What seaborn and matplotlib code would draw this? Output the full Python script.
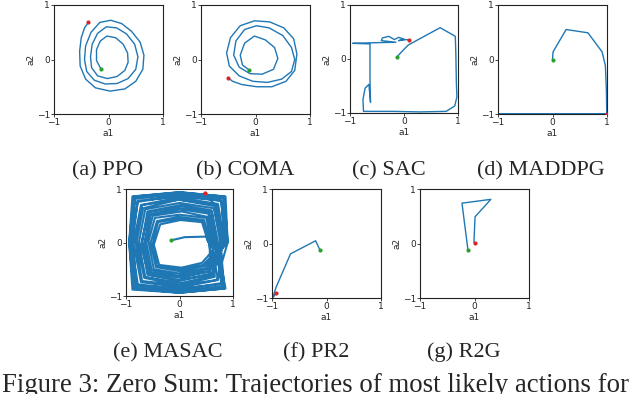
import matplotlib
matplotlib.use("Agg")
import matplotlib.pyplot as plt
import seaborn as sns

sns.set_style("ticks")
plt.rcParams['font.family'] = ['DejaVu Sans']

# trajectories of most likely actions (a1, a2), first point = start, last point = end
ppo_x = [-0.14, -0.22, -0.22, -0.15, -0.03, 0.13, 0.27, 0.35, 0.36, 0.30, 0.16, -0.02, -0.20, -0.31,
         -0.33, -0.30, -0.20, -0.04, 0.15, 0.33, 0.48, 0.54, 0.50, 0.36, 0.16, -0.06, -0.26, -0.40,
         -0.44, -0.42, -0.32, -0.16, 0.04, 0.24, 0.42, 0.58, 0.65, 0.63, 0.50, 0.30, 0.03, -0.24,
         -0.42, -0.52, -0.53, -0.50, -0.44, -0.37]
ppo_y = [-0.17, -0.02, 0.18, 0.34, 0.43, 0.40, 0.28, 0.12, -0.05, -0.20, -0.31, -0.35, -0.30, -0.15,
         0.05, 0.28, 0.48, 0.60, 0.58, 0.47, 0.28, 0.05, -0.18, -0.35, -0.44, -0.45, -0.38, -0.22,
         0.00, 0.25, 0.50, 0.68, 0.72, 0.66, 0.52, 0.32, 0.08, -0.18, -0.40, -0.54, -0.58, -0.52,
         -0.36, -0.12, 0.15, 0.40, 0.58, 0.68]

coma_x = [-0.12, -0.24, -0.28, -0.20, -0.02, 0.18, 0.35, 0.41, 0.33, 0.12, -0.10, -0.30, -0.40,
          -0.36, -0.20, 0.02, 0.25, 0.50, 0.66, 0.72, 0.66, 0.48, 0.22, -0.05, -0.30, -0.48, -0.53,
          -0.46, -0.28, -0.02, 0.26, 0.52, 0.70, 0.76, 0.72, 0.56, 0.30, 0.02, -0.25, -0.42, -0.50]
coma_y = [-0.19, -0.10, 0.08, 0.30, 0.43, 0.36, 0.22, 0.02, -0.18, -0.27, -0.26, -0.14, 0.08,
          0.34, 0.55, 0.62, 0.58, 0.44, 0.22, 0.00, -0.22, -0.36, -0.42, -0.40, -0.30, -0.12, 0.12,
          0.40, 0.62, 0.71, 0.69, 0.58, 0.38, 0.10, -0.20, -0.40, -0.50, -0.50, -0.46, -0.40, -0.34]

sac_x = [-0.13, 0.00, 0.08, 0.67, 0.95, 0.96, 0.97, 0.98, 0.94, 0.78, 0.30, -0.20, -0.75, -0.76,
         -0.72, -0.65, -0.62, -0.63, -0.63, -0.95, -0.60, -0.15, -0.42, -0.40, -0.28, -0.18, -0.10,
         0.00, -0.10, 0.05, 0.09]
sac_y = [0.04, 0.18, 0.26, 0.58, 0.42, 0.10, -0.45, -0.70, -0.87, -0.97, -0.98, -0.97, -0.97, -0.75,
         -0.54, -0.47, -0.80, -0.40, 0.28, 0.29, 0.30, 0.31, 0.34, 0.39, 0.42, 0.36, 0.40, 0.37,
         0.34, 0.36, 0.35]

maddpg_x = [0.00, 0.01, 0.25, 0.65, 0.91, 0.97, 0.99, 0.995, -1.0, -1.0, -1.0, 1.0]
maddpg_y = [0.00, 0.14, 0.55, 0.49, 0.14, -0.11, -0.60, -1.0, -1.0, 1.0, -1.0, -1.0]

masac_x = [-0.16, 0.10, 0.50,
           0.54, 0.42, 0.02, -0.36, -0.48, -0.38, 0.04, 0.42,
           0.80, 0.66, -0.02, -0.68, -0.80, -0.66, 0.00, 0.66,
           0.62, 0.52, 0.04, -0.50, -0.62, -0.52, -0.02, 0.52,
           0.88, 0.84, 0.00, -0.84, -0.92, -0.86, 0.02, 0.82,
           0.72, 0.60, 0.02, -0.58, -0.72, -0.58, 0.00, 0.58,
           0.56, 0.46, -0.02, -0.42, -0.54, -0.44, 0.02, 0.46,
           0.86, 0.78, 0.02, -0.78, -0.90, -0.78, 0.00, 0.78,
           0.68, 0.56, 0.00, -0.56, -0.66, -0.56, 0.04, 0.56,
           0.84, 0.72, -0.02, -0.72, -0.86, -0.72, 0.02, 0.72,
           0.60, 0.50, 0.00, -0.46, -0.58, -0.48, 0.00, 0.48,
           0.90, 0.84, 0.02, -0.86, -0.94, -0.86, 0.00, 0.84,
           0.76, 0.64, 0.00, -0.64, -0.76, -0.64, 0.02, 0.64,
           0.55, 0.44, 0.00, -0.40, -0.50, -0.42, 0.02, 0.44,
           0.88, 0.82, 0.00, -0.82, -0.92, -0.82, 0.00, 0.80,
           0.65, 0.54, 0.02, -0.54, -0.64, -0.54, 0.00, 0.54,
           0.80, 0.70, 0.00, -0.70, -0.82, -0.70, 0.02, 0.70,
           0.90, 0.86, -0.02, -0.88, -0.94, -0.88, 0.00, 0.86,
           0.70, 0.60, 0.02, -0.60, -0.70, -0.60, 0.00, 0.60,
           0.85, 0.78, 0.00, -0.78, -0.88, -0.80, 0.02, 0.78,
           0.78, 0.68, 0.47]
masac_y = [0.04, 0.10, 0.11,
           0.00, 0.38, 0.42, 0.34, -0.04, -0.42, -0.47, -0.38,
           0.05, 0.68, 0.80, 0.64, 0.02, -0.66, -0.80, -0.64,
           -0.04, 0.48, 0.58, 0.50, 0.00, -0.52, -0.62, -0.50,
           0.02, 0.84, 0.92, 0.84, 0.00, -0.86, -0.92, -0.84,
           0.00, 0.58, 0.68, 0.56, -0.04, -0.60, -0.72, -0.58,
           0.04, 0.42, 0.48, 0.40, 0.00, -0.46, -0.54, -0.44,
           -0.02, 0.78, 0.88, 0.76, 0.02, -0.78, -0.88, -0.76,
           0.02, 0.56, 0.64, 0.52, -0.02, -0.58, -0.66, -0.54,
           0.00, 0.72, 0.84, 0.70, -0.02, -0.74, -0.84, -0.70,
           -0.02, 0.46, 0.52, 0.46, 0.02, -0.50, -0.58, -0.48,
           0.00, 0.86, 0.94, 0.86, 0.00, -0.86, -0.94, -0.86,
           0.02, 0.64, 0.74, 0.62, 0.00, -0.64, -0.76, -0.62,
           0.02, 0.40, 0.45, 0.38, -0.02, -0.44, -0.50, -0.42,
           0.04, 0.82, 0.90, 0.82, 0.00, -0.82, -0.90, -0.82,
           0.00, 0.54, 0.62, 0.52, 0.00, -0.56, -0.64, -0.54,
           0.02, 0.70, 0.80, 0.70, 0.00, -0.72, -0.80, -0.70,
           0.00, 0.86, 0.94, 0.86, 0.00, -0.88, -0.94, -0.86,
           0.00, 0.60, 0.70, 0.58, 0.00, -0.60, -0.70, -0.60,
           0.02, 0.78, 0.86, 0.78, 0.00, -0.80, -0.86, -0.78,
           0.02, 0.68, 0.93]

pr2_x = [-0.12, -0.20, -0.66, -0.92, -0.99, -0.92]
pr2_y = [-0.12, 0.05, -0.19, -0.79, -1.00, -0.91]

r2g_x = [-0.12, -0.23, 0.30, 0.01, -0.01, 0.00]
r2g_y = [-0.12, 0.74, 0.81, 0.49, 0.03, 0.01]

panels = [
    ("(a) PPO", ppo_x, ppo_y),
    ("(b) COMA", coma_x, coma_y),
    ("(c) SAC", sac_x, sac_y),
    ("(d) MADDPG", maddpg_x, maddpg_y),
    ("(e) MASAC", masac_x, masac_y),
    ("(f) PR2", pr2_x, pr2_y),
    ("(g) R2G", r2g_x, r2g_y),
]

# axes boxes in pixels: left, top, size ; caption centre x, caption baseline y
boxes = [(54, 5, 109, 108, 175), (201, 5, 109, 245, 175), (350, 5, 108, 389, 175),
         (498, 5, 109, 541, 175), (126, 189, 107, 168, 357), (272, 189, 109, 316, 357),
         (420, 189, 109, 464, 357)]

W, H = 640, 394
fig = plt.figure(figsize=(W / 100, H / 100), dpi=100)

for (title, xs, ys), (left, top, size, cx, cy) in zip(panels, boxes):
    ax = fig.add_axes([left / W, 1 - (top + size) / H, size / W, size / H])
    lw = 1.5 if title == "(e) MASAC" else 1.0
    sns.lineplot(x=xs, y=ys, sort=False, estimator=None, color='#1f77b4', lw=lw, ax=ax)
    sns.scatterplot(x=[xs[0]], y=[ys[0]], color='#2ca02c', s=9, linewidth=0, zorder=4, ax=ax)
    sns.scatterplot(x=[xs[-1]], y=[ys[-1]], color='#d62728', s=9, linewidth=0, zorder=4, ax=ax)
    ax.set_xlim(-1, 1)
    ax.set_ylim(-1, 1)
    ax.set_xticks([-1, 0, 1])
    ax.set_yticks([-1, 0, 1])
    ax.tick_params(labelsize=6.5, length=2, width=0.6, pad=1)
    ax.set_xlabel("a1", fontsize=6.5, labelpad=1)
    ax.set_ylabel("a2", fontsize=6.5, labelpad=1)
    for sp in ax.spines.values():
        sp.set_linewidth(0.8)
        sp.set_color('#222222')
    fig.text(cx / W, 1 - cy / H, title, ha='center', va='baseline',
             fontsize=16, family='Liberation Serif')

fig.text(2 / W, 1 - 392 / H, "Figure 3: Zero Sum: Trajectories of most likely actions for",
         ha='left', va='baseline', fontsize=19.3, family='Liberation Serif')

fig.savefig("out.png", dpi=100)
